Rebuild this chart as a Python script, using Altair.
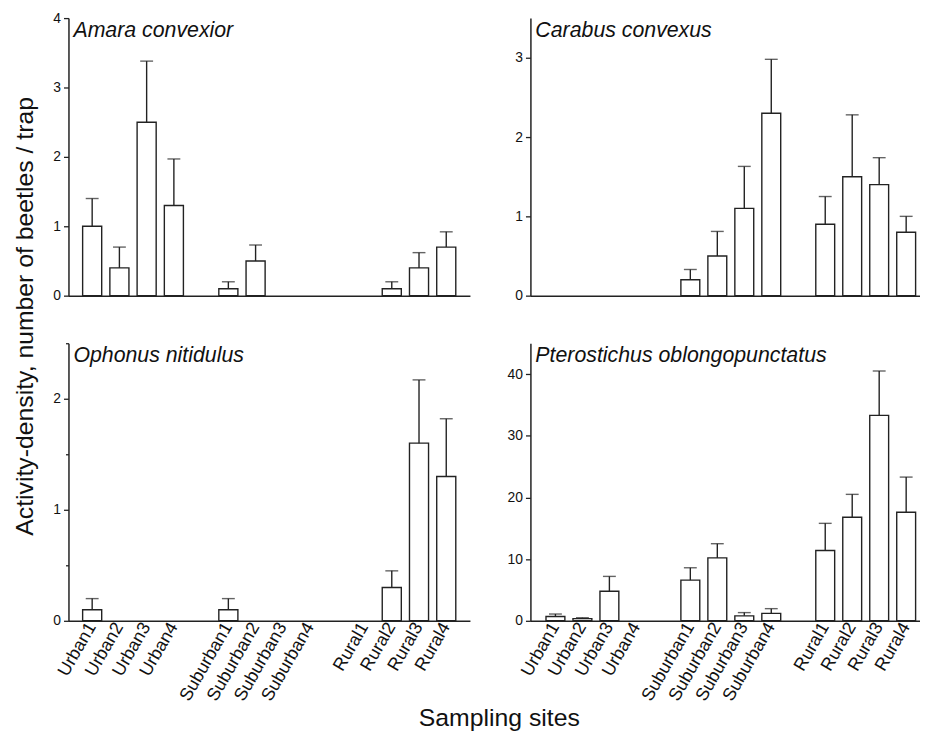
import altair as alt
import pandas as pd

FONT = "Liberation Sans"
INK = "#222222"

sites = ["Urban1", "Urban2", "Urban3", "Urban4",
         "Suburban1", "Suburban2", "Suburban3", "Suburban4",
         "Rural1", "Rural2", "Rural3", "Rural4"]
# blank spacer categories separate the three site groups
x_domain = sites[:4] + [" "] + sites[4:8] + ["  "] + sites[8:]

species = ["Amara convexior", "Carabus convexus",
           "Ophonus nitidulus", "Pterostichus oblongopunctatus"]

amara_mean = [1.0, 0.4, 2.5, 1.3, 0.1, 0.5, 0, 0, 0, 0.1, 0.4, 0.7]
amara_se = [0.4, 0.3, 0.88, 0.67, 0.1, 0.23, 0, 0, 0, 0.1, 0.22, 0.22]

carabus_mean = [0, 0, 0, 0, 0.2, 0.5, 1.1, 2.3, 0.9, 1.5, 1.4, 0.8]
carabus_se = [0, 0, 0, 0, 0.13, 0.31, 0.53, 0.68, 0.35, 0.78, 0.34, 0.2]

ophonus_mean = [0.1, 0, 0, 0, 0.1, 0, 0, 0, 0, 0.3, 1.6, 1.3]
ophonus_se = [0.1, 0, 0, 0, 0.1, 0, 0, 0, 0, 0.15, 0.57, 0.52]

ptero_mean = [0.7, 0.35, 4.8, 0, 6.6, 10.2, 0.8, 1.2, 11.4, 16.8, 33.3, 17.6]
ptero_se = [0.4, 0.15, 2.4, 0, 2.0, 2.3, 0.53, 0.77, 4.4, 3.7, 7.2, 5.7]

y_max = [4, 3.5, 2.5, 45]
y_major = [1, 1, 1, 10]
y_minor = [0.5, 0.5, 0.5, 5]


def panel(idx, mean, se, bottom, width, pad_outer, align):
    df = pd.DataFrame({"site": sites, "mean": mean, "se": se})
    major = y_major[idx]
    minor = y_minor[idx]
    n_ticks = int(round(y_max[idx] / minor)) + 1
    tick_vals = [round(k * minor, 3) for k in range(n_ticks)]

    xscale = alt.Scale(domain=x_domain, paddingInner=0.3,
                       paddingOuter=pad_outer, align=align)
    if bottom:
        xaxis = alt.Axis(title=None, labelAngle=-60, labelAlign="right",
                         labelBaseline="middle", ticks=False, labelPadding=3,
                         labelFontSize=18, labelOverlap=False, labelColor="#111",
                         domainColor=INK, domainWidth=1.5, labelFont=FONT)
    else:
        xaxis = alt.Axis(title=None, labels=False, ticks=False,
                         domainColor=INK, domainWidth=1.5)

    yaxis = alt.Axis(
        title=None, values=tick_vals, grid=False,
        labelExpr=f"datum.value % {major} == 0 ? format(datum.value, 'd') : ''",
        tickSize={"condition": {"test": f"datum.value % {major} != 0", "value": 3},
                  "value": 5},
        tickColor=INK, tickWidth=1.3, domainColor=INK, domainWidth=1.5,
        labelFontSize=14, labelPadding=3, labelColor="#111", labelFont=FONT,
    )
    yscale = alt.Scale(domain=[0, y_max[idx]], nice=False, zero=True)

    base = alt.Chart(df).transform_filter("datum.mean > 0").transform_calculate(
        upper="datum.mean + datum.se")

    bars = base.mark_bar(fill="white", stroke=INK, strokeWidth=1.4).encode(
        x=alt.X("site:N", scale=xscale, axis=xaxis, sort=x_domain),
        y=alt.Y("mean:Q", scale=yscale, axis=yaxis),
    )
    err = base.mark_rule(color=INK, strokeWidth=1.4).encode(
        x=alt.X("site:N", sort=x_domain),
        y="mean:Q",
        y2="upper:Q",
    )
    cap = base.mark_tick(color=INK, thickness=1.4, size=13, orient="horizontal").encode(
        x=alt.X("site:N", sort=x_domain),
        y="upper:Q",
    )
    label = alt.Chart(pd.DataFrame({"name": [species[idx]]})).mark_text(
        align="left", baseline="alphabetic", fontStyle="italic",
        fontSize=21.5, font=FONT, color="#111",
    ).encode(x=alt.value(5), y=alt.value(19), text="name:N")

    return alt.layer(bars, err, cap, label).properties(width=width, height=280)


p1 = panel(0, amara_mean, amara_se, False, 405, 0.52, 0.5)
p2 = panel(1, carabus_mean, carabus_se, False, 393, 0.37, 0.78)
p3 = panel(2, ophonus_mean, ophonus_se, True, 405, 0.52, 0.5)
p4 = panel(3, ptero_mean, ptero_se, True, 393, 0.37, 0.78)

grid = alt.concat(p1, p2, p3, p4, columns=2,
                  spacing={"row": 40, "column": 37}).properties(
    title=alt.TitleParams("Sampling sites", orient="bottom", anchor="middle",
                          fontSize=25, fontWeight="normal", font=FONT,
                          color="#111", offset=2, dx=13)
)

chart = alt.vconcat(grid).properties(
    title=alt.TitleParams("Activity-density, number of beetles / trap",
                          orient="left", anchor="middle", fontSize=25,
                          fontWeight="normal", font=FONT, color="#111",
                          offset=15, dx=55),
    padding={"left": 5, "top": 0, "right": 0, "bottom": 0},
).configure(font=FONT).configure_view(strokeWidth=0, stroke="transparent")

chart.save("out.html", embed_options={"renderer": "svg", "actions": False})
